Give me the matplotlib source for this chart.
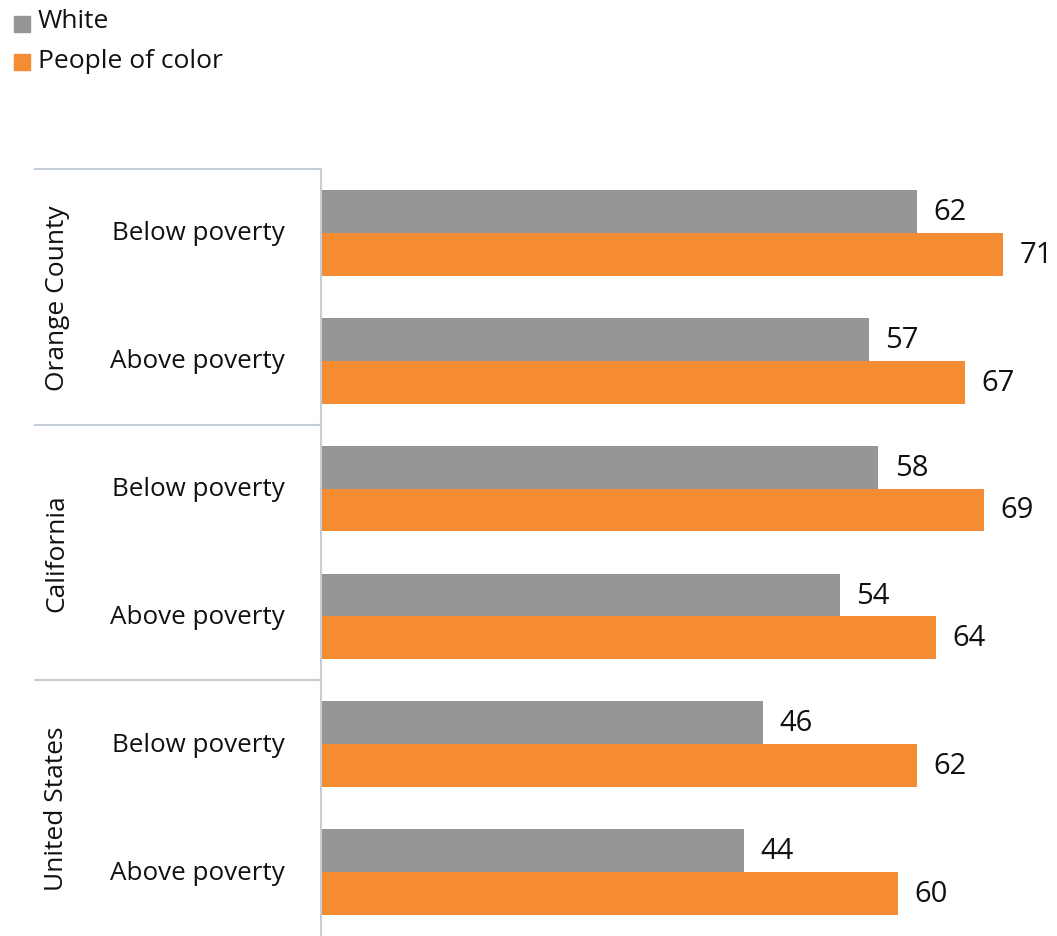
import matplotlib
matplotlib.use("Agg")
import matplotlib.pyplot as plt
from matplotlib.lines import Line2D
from matplotlib.patches import Rectangle
import numpy as np

plt.rcParams['font.family'] = ['Open Sans', 'DejaVu Sans']

groups = ["Orange County", "California", "United States"]
subcats = ["Below poverty", "Above poverty"]
white = [62, 57, 58, 54, 46, 44]
poc = [71, 67, 69, 64, 62, 60]
series_names = ["White", "People of color"]
colors = ["#969696", "#f58b33"]
line_col = "#c5ced6"

W, H = 1057, 937
fig = plt.figure(figsize=(W / 100, H / 100), dpi=100)
ax_left, ax_top, ax_bottom = 321, 170, 937
ax = fig.add_axes([ax_left / W, 0, (W - ax_left) / W, (ax_bottom - ax_top) / H])

n = len(white)
pos = np.arange(n)
bh = 0.335
ax.barh(pos - bh / 2, white, height=bh, color=colors[0], edgecolor='none')
ax.barh(pos + bh / 2, poc, height=bh, color=colors[1], edgecolor='none')
ax.set_ylim(n - 0.5, -0.5)
ax.set_xlim(0, (W - ax_left) / 9.61)

for i in range(n):
    ax.text(white[i] + 1.7, i - bh / 2, str(white[i]), va='center', ha='left', fontsize=21, color='#111111')
    ax.text(poc[i] + 1.7, i + bh / 2, str(poc[i]), va='center', ha='left', fontsize=21, color='#111111')

ax.set_xticks([])
ax.set_yticks([])
for s in ['top', 'right', 'bottom']:
    ax.spines[s].set_visible(False)
ax.spines['left'].set_color(line_col)
ax.spines['left'].set_linewidth(1.5)

def fx(px):
    return px / W

def fy(py):
    return 1 - py / H

row_h = (ax_bottom - ax_top) / n
for i in range(n):
    yc = ax_top + (i + 0.5) * row_h
    fig.text(fx(285), fy(yc), subcats[i % 2], ha='right', va='center', fontsize=18.7, color='#111111')

for g, name in enumerate(groups):
    y0 = ax_top + g * 2 * row_h
    fig.add_artist(Line2D([fx(35), fx(ax_left)], [fy(y0), fy(y0)], color=line_col, lw=1.5))
    fig.text(fx(57), fy(y0 + row_h), name, rotation=90, ha='center', va='center', fontsize=19, color='#111111')

# legend
sq_y = [24.5, 63]
txt_y = [21, 61]
for k, name in enumerate(series_names):
    fig.add_artist(Rectangle((fx(14), fy(sq_y[k] + 8)), 16 / W, 16 / H, color=colors[k], transform=fig.transFigure))
    fig.text(fx(38), fy(txt_y[k]), name, ha='left', va='center', fontsize=19, color='#111111')

fig.savefig("out.png", dpi=100)
